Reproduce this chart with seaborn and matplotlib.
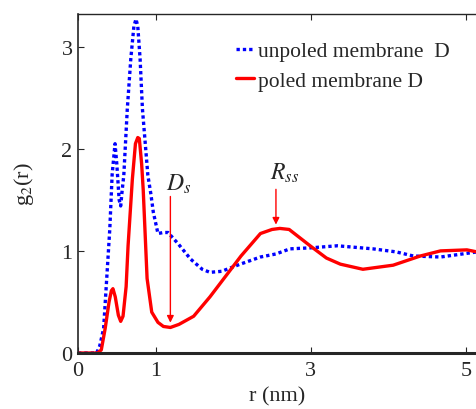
import numpy as np
import pandas as pd
import matplotlib
matplotlib.use('Agg')
import matplotlib.pyplot as plt
import seaborn as sns

# unpoled membrane D (blue dotted)
r_unpoled = [0, 0.24, 0.28, 0.33, 0.37, 0.41, 0.44, 0.477, 0.50, 0.53, 0.55, 0.57,
             0.59, 0.635, 0.68, 0.72, 0.747, 0.77, 0.80, 0.83, 0.90, 0.94, 0.97,
             1.03, 1.10, 1.16, 1.29, 1.45, 1.60, 1.70, 1.85, 2.09, 2.35, 2.55,
             2.73, 3.0, 3.34, 3.8, 4.1, 4.32, 4.67, 5.14]
g_unpoled = [0, 0, 0.07, 0.24, 0.73, 1.22, 1.75, 2.05, 1.85, 1.50, 1.44, 1.60,
             1.74, 2.39, 2.88, 3.20, 3.27, 3.20, 2.88, 2.39, 1.74, 1.55, 1.38,
             1.17, 1.18, 1.18, 1.07, 0.92, 0.82, 0.79, 0.80, 0.87, 0.94, 0.97,
             1.02, 1.03, 1.05, 1.02, 0.99, 0.95, 0.94, 0.99]

# poled membrane D (red solid)
r_poled = [0, 0.25, 0.30, 0.35, 0.40, 0.43, 0.45, 0.48, 0.52, 0.55, 0.58, 0.62,
           0.645, 0.70, 0.74, 0.77, 0.79, 0.82, 0.84, 0.89, 0.95, 1.03, 1.10,
           1.19, 1.30, 1.49, 1.70, 1.91, 2.10, 2.35, 2.50, 2.60, 2.72, 2.99,
           3.20, 3.38, 3.67, 4.06, 4.41, 4.67, 5.01, 5.14]
g_poled = [0, 0, 0.03, 0.24, 0.50, 0.61, 0.63, 0.55, 0.37, 0.31, 0.36, 0.65,
           1.05, 1.70, 2.05, 2.11, 2.10, 1.85, 1.60, 0.73, 0.40, 0.30, 0.26,
           0.25, 0.28, 0.36, 0.55, 0.76, 0.95, 1.17, 1.21, 1.22, 1.21, 1.05,
           0.93, 0.87, 0.82, 0.86, 0.95, 1.00, 1.01, 0.99]

x_ticks = [0, 1, 3, 5]
y_ticks = [0, 1, 2, 3]

sns.set_style('ticks')
plt.rcParams['font.family'] = ['Liberation Serif', 'DejaVu Serif']
plt.rcParams['mathtext.fontset'] = 'stix'

fig = plt.figure(figsize=(4.77, 4.10), dpi=100)
ax = fig.add_axes([78 / 477, 56 / 410, 399 / 477, 339 / 410])

sns.lineplot(x=r_unpoled, y=g_unpoled, ax=ax, color='#0000FF', lw=2.4,
             linestyle=(0, (1.0, 0.9)), label='unpoled membrane  D')
sns.lineplot(x=r_poled, y=g_poled, ax=ax, color='#FF0000', lw=2.4,
             label='poled membrane D')

ax.set_xlim(0, 5.14)
ax.set_ylim(0, 3.32)
ax.set_xticks(x_ticks)
ax.set_yticks(y_ticks)
ax.tick_params(direction='in', top=True, right=False, labelsize=16,
               length=4, width=0.8, pad=6)
ax.tick_params(axis='y', pad=4)
ax.spines['right'].set_visible(False)
ax.spines['bottom'].set_linewidth(2.2)
ax.spines['left'].set_linewidth(1.2)
ax.spines['top'].set_linewidth(1.0)

ax.set_xlabel('r (nm)', fontsize=16, labelpad=4)
ax.set_ylabel('g$_2$(r)', fontsize=16, labelpad=18)

# Ds and Rss markers
ax.annotate('', xy=(1.19, 0.27), xytext=(1.19, 1.56),
            arrowprops=dict(arrowstyle='-|>', color='#FF0000', lw=1,
                            mutation_scale=10))
ax.text(1.30, 1.66, '$D_s$', fontsize=17, ha='center', va='center')
ax.annotate('', xy=(2.55, 1.23), xytext=(2.55, 1.63),
            arrowprops=dict(arrowstyle='-|>', color='#FF0000', lw=1,
                            mutation_scale=10))
ax.text(2.66, 1.77, '$R_{ss}$', fontsize=17, ha='center', va='center')

leg = ax.legend(loc='upper left', bbox_to_anchor=(0.395, 0.92), frameon=False,
                fontsize=15.5, handlelength=0.85, handletextpad=0.2,
                labelspacing=0.45, borderpad=0, borderaxespad=0)

fig.savefig('out.png', dpi=100)
